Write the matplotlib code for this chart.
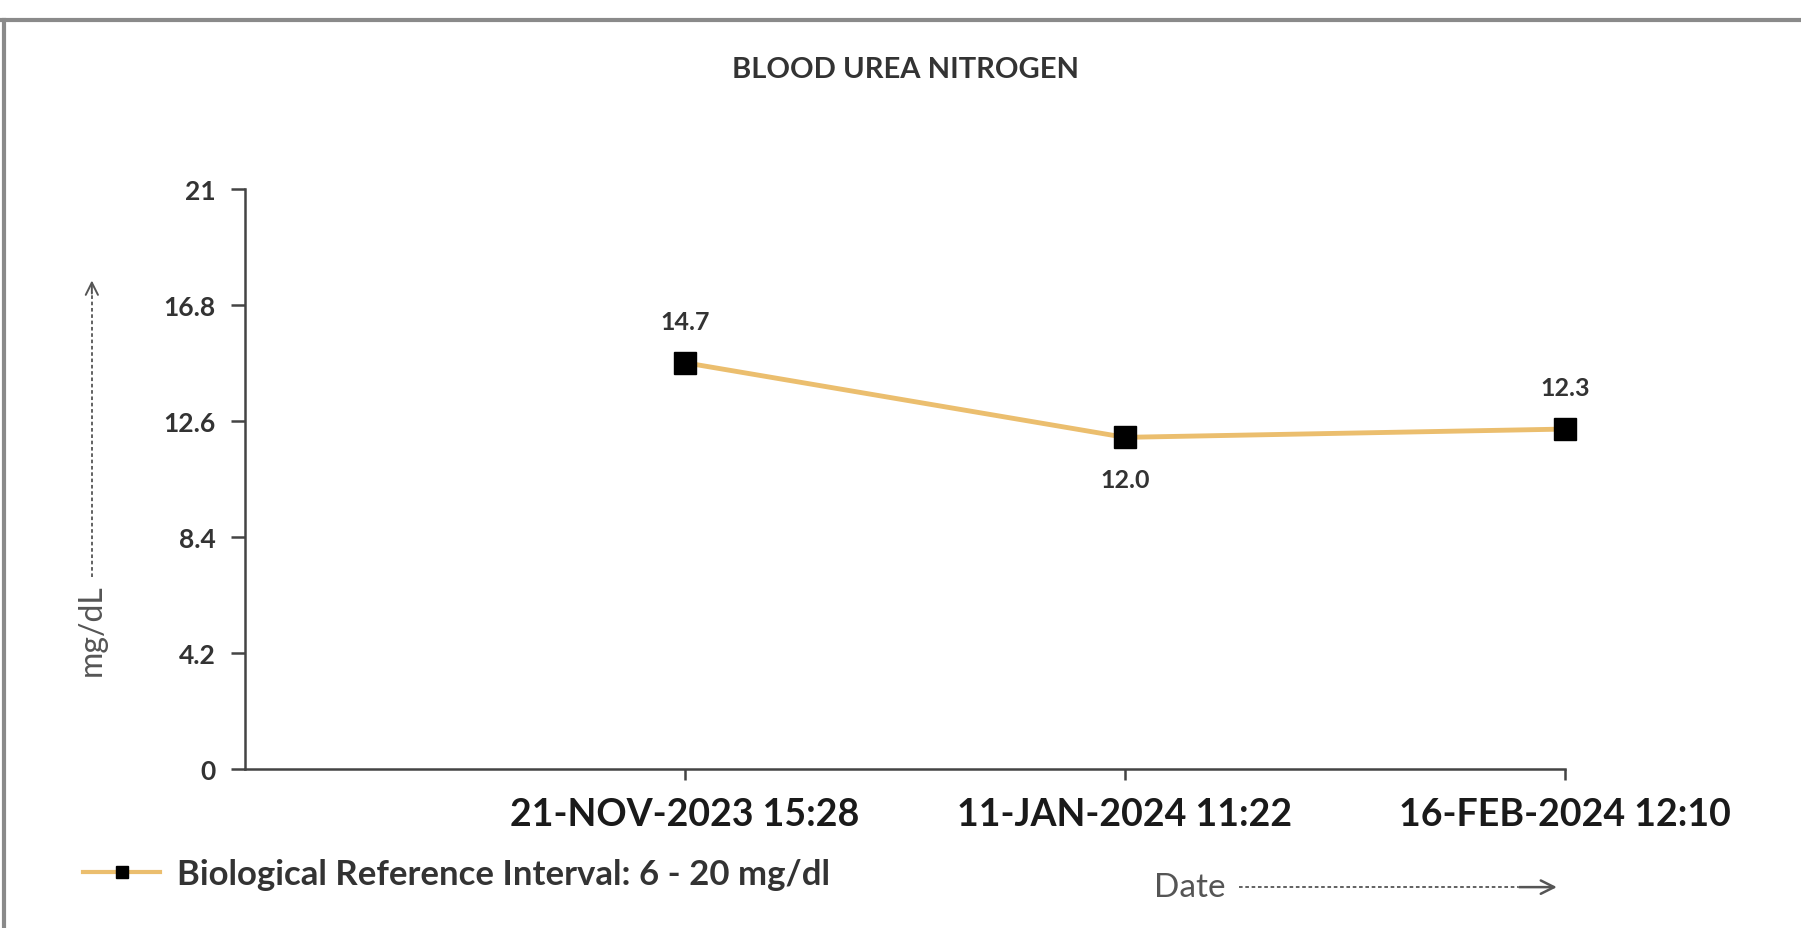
import numpy as np
import matplotlib.pyplot as plt
from matplotlib.lines import Line2D

# data
dates = ["21-NOV-2023 15:28", "11-JAN-2024 11:22", "16-FEB-2024 12:10"]
bun_values = [14.7, 12.0, 12.3]
label_side = ["above", "below", "above"]
y_ticks = [0, 4.2, 8.4, 12.6, 16.8, 21]
y_tick_labels = ["0", "4.2", "8.4", "12.6", "16.8", "21"]

plt.rcParams['font.family'] = ['Lato', 'DejaVu Sans']

fig = plt.figure(figsize=(18.01, 9.29), dpi=100)
ax = fig.add_axes([0.136, 0.171, 0.733, 0.625])

x = np.arange(1, len(dates) + 1)
ax.plot(x, bun_values, color='#EBBE6E', lw=3.5, zorder=2, clip_on=False)
ax.plot(x, bun_values, ls='none', marker='s', ms=16, color='black', zorder=3, clip_on=False)

for xi, v, side in zip(x, bun_values, label_side):
    dy = 30 if side == "above" else -30
    ax.annotate("{:.1f}".format(v), (xi, v), xytext=(0, dy), textcoords='offset points',
                ha='center', va='center', fontsize=18, fontweight='bold', color='#333333')

ax.set_xlim(0, 3)
ax.set_ylim(0, 21)
ax.set_xticks(x)
ax.set_xticklabels(dates, fontsize=27, fontweight='bold', color='#1a1a1a')
ax.set_yticks(y_ticks)
ax.set_yticklabels(y_tick_labels, fontsize=19, fontweight='bold', color='#333333')
ax.tick_params(axis='both', direction='out', width=1.8, color='#444444')
ax.tick_params(axis='x', length=8, pad=12)
ax.tick_params(axis='y', length=10, pad=11)
for s in ['top', 'right']:
    ax.spines[s].set_visible(False)
for s in ['left', 'bottom']:
    ax.spines[s].set_color('#444444')
    ax.spines[s].set_linewidth(1.8)

ax.set_title("BLOOD UREA NITROGEN", fontsize=21, fontweight='bold', color='#333333',
             y=1.178)

# legend with a short line+marker handle
handle = Line2D([], [], color='#EBBE6E', lw=3, marker='s', ms=8, mfc='black', mec='black')
fig.legend([handle], ['Biological Reference Interval: 6 - 20 mg/dl'], loc='center left',
           bbox_to_anchor=(0.029, 0.058), frameon=False, handlelength=2.2, handletextpad=0.5,
           labelcolor='#333333', prop={'weight': 'bold', 'size': 25})

# axis captions with dashed arrows
fig.text(0.051, 0.322, "mg/dL", rotation=90, ha='center', va='center', fontsize=23,
         color='#555555')
fig.add_artist(Line2D([0.051, 0.051], [0.378, 0.685], ls=(0, (2, 1.5)), lw=1.3, color='#555555'))
ax.annotate("", xy=(0.051, 0.70), xytext=(0.051, 0.68), xycoords='figure fraction',
            textcoords='figure fraction', annotation_clip=False,
            arrowprops=dict(arrowstyle='->', color='#555555', lw=1.4, mutation_scale=22))
fig.text(0.641, 0.044, "Date", ha='left', va='center', fontsize=24, color='#555555')
fig.add_artist(Line2D([0.688, 0.843], [0.044, 0.044], ls=(0, (2, 1.5)), lw=1.3, color='#555555'))
ax.annotate("", xy=(0.866, 0.044), xytext=(0.842, 0.044), xycoords='figure fraction',
            textcoords='figure fraction', annotation_clip=False,
            arrowprops=dict(arrowstyle='->', color='#555555', lw=1.8, mutation_scale=24))

# outer frame (top and left edges)
fig.add_artist(Line2D([0.0, 1.0], [0.977, 0.977], lw=3, color='#8a8a8a'))
fig.add_artist(Line2D([0.002, 0.002], [0.0, 0.977], lw=3, color='#8a8a8a'))

fig.savefig("out.png", dpi=100)
